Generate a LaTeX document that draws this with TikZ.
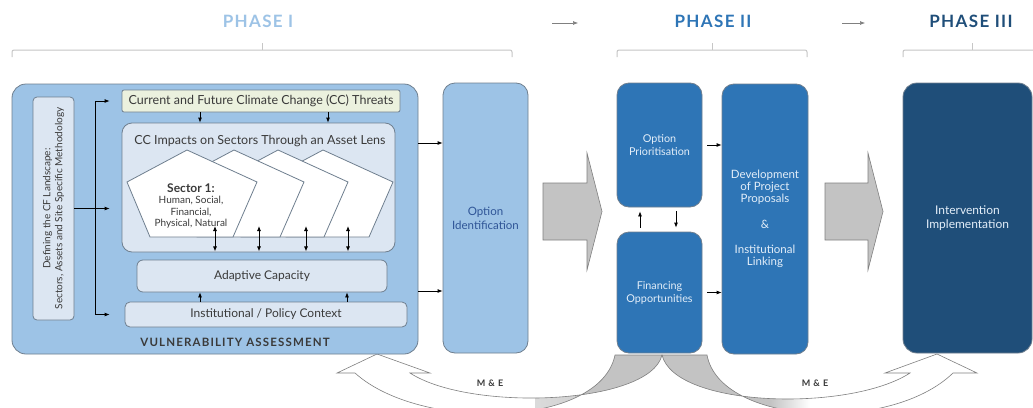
\documentclass[tikz,border=0pt]{standalone}
\usepackage{fontspec}
\setmainfont{Lato}
\usepackage{tikz}
\usetikzlibrary{arrows.meta}
\definecolor{PaleBlue}{HTML}{9DC3E6}
\definecolor{IceBlue}{HTML}{DCE6F2}
\definecolor{MidBlue}{HTML}{2E75B6}
\definecolor{DeepBlue}{HTML}{1F4E79}
\definecolor{ThreatGreen}{HTML}{EBF1DE}
\definecolor{EdgeGrey}{HTML}{6F7F8F}
\definecolor{BlockGrey}{HTML}{C3C3C3}
\definecolor{InkGrey}{HTML}{3A3A3A}
\definecolor{LabelBlue}{HTML}{2F5597}
\definecolor{SoftWhite}{HTML}{E3EEF9}

\begin{document}
\begin{tikzpicture}[x=1pt, y=-1pt, >={Latex[length=5pt,width=4pt]}, line width=0.8pt,
	panel/.style={draw=EdgeGrey, rounded corners=#1, inner sep=0pt, align=center},
	panel/.default=8pt,
	phasetitle/.style={font=\fontsize{17}{17}\selectfont\bfseries\addfontfeature{LetterSpace=8}},
	bracket/.style={gray!45, line width=1pt, rounded corners=2pt},
	bigarrow/.style={draw=gray, fill=BlockGrey, line width=0.6pt},
	meflow/.style={draw=gray, line width=0.6pt, fill=white}]

				\fill[white] (0,0) rectangle (1033,407);
				\useasboundingbox (0,0) rectangle (1033,407);

				\node[phasetitle, PaleBlue] (phaseone) at (258,21) {PHASE I};
				\node[phasetitle, MidBlue] (phasetwo) at (713,21) {PHASE II};
				\node[phasetitle, DeepBlue] (phasethree) at (971,21) {PHASE III};
				\foreach \l/\m/\r in {12/262/512, 617/712/807, 903/972/1050} {
					\draw[bracket] (\l,57) -- (\l,50) -- (\r,50) -- (\r,57);
					\draw[bracket] (\m,43) -- (\m,50);
				}
				\foreach \xa/\xb [count=\i] in {552/578, 842/865} {
					\coordinate (from\i) at (\xa,23);
					\coordinate (to\i) at (\xb,23);
					\draw[gray, ->, line width=0.6pt] (from\i) -- (to\i);
				}

				\draw[meflow, path picture={\shade[left color=white, right color=BlockGrey] (535,330) rectangle (575,410); \fill[BlockGrey] (575,330) rectangle (700,410);}]
				(662,355) .. controls (650,405) and (470,412) .. (410,373) -- (430,373) -- (377,354) -- (337,373) -- (355,373) .. controls (420,432) and (600,428) .. (615,355) -- cycle;
				\draw[meflow, path picture={\fill[BlockGrey] (640,330) rectangle (770,410); \shade[left color=BlockGrey, right color=white] (770,330) rectangle (810,410);}]
				(662,355) .. controls (675,408) and (850,412) .. (910,373) -- (885,373) -- (937,354) -- (977,373) -- (953,373) .. controls (890,434) and (720,425) .. (707,355) -- cycle;

				\node[panel=14pt, fill=PaleBlue, minimum width=406pt, minimum height=270pt] (va) at (215,219) {};
				\node[font=\fontsize{11.5}{13}\selectfont\bfseries\addfontfeature{LetterSpace=10}, InkGrey] (vatitle) at (235,342) {VULNERABILITY ASSESSMENT};
				\node[panel=4pt, fill=IceBlue, rotate=90, minimum width=223pt, minimum height=41pt, font=\fontsize{10}{12}\selectfont, text=InkGrey] (landscape) at (53.5,208.5) {Defining the CF Landscape:\\Sectors, Assets and Site Specific Methodology};
				\node[panel=2pt, fill=ThreatGreen, minimum width=278pt, minimum height=22pt, font=\fontsize{12.5}{14}\selectfont, text=InkGrey] (threats) at (261,101) {Current and Future Climate Change (CC) Threats};
				\node[panel=10pt, fill=IceBlue, minimum width=273pt, minimum height=129pt] (impacts) at (258.5,187.5) {};
				\node[font=\fontsize{12.5}{14}\selectfont, InkGrey] (impactstitle) at (260,141) {CC Impacts on Sectors Through an Asset Lens};
				\foreach \dx in {136,91,47,0}
					\draw[EdgeGrey, fill=white] (127+\dx,182) -- (187+\dx,150) -- (257+\dx,182) -- (233+\dx,237) -- (150+\dx,237) -- cycle;
				\node[align=center, font=\fontsize{10}{11.5}\selectfont, InkGrey] (sectorone) at (191,206) {{\fontsize{12}{13}\selectfont\bfseries Sector 1:}\\Human, Social,\\Financial,\\Physical, Natural};
				\node[panel=6pt, fill=IceBlue, minimum width=250pt, minimum height=32pt, font=\fontsize{12}{14}\selectfont, text=InkGrey] (adaptive) at (262,276) {Adaptive Capacity};
				\node[panel=5pt, fill=IceBlue, minimum width=282pt, minimum height=25pt, font=\fontsize{12}{14}\selectfont, text=InkGrey] (policy) at (266,314.5) {Institutional / Policy Context};

				\coordinate (fork) at (95,208.5);
				\draw (landscape.south) -- (fork);
				\draw[->, shorten >=12pt] (fork) |- (threats.west);
				\draw[->, shorten >=12pt] (fork) -- (fork -| impacts.west);
				\draw[->, shorten >=15pt] (fork) |- (policy.west);
				\foreach \x in {200,328}
					\draw[->] (threats.south -| \x,0) -- (impacts.north -| \x,0);
				\foreach \x in {215,259,306,348}
					\draw[<->, shorten >=1pt] (\x,226) -- (impacts.south -| \x,0);
				\foreach \x in {200,347}
					\draw[->] (policy.north -| \x,0) -- (adaptive.south -| \x,0);

				\node[panel=12pt, fill=PaleBlue, minimum width=85pt, minimum height=270pt, font=\fontsize{11.5}{14}\selectfont, text=LabelBlue] (optid) at (485.5,218) {Option\\Identification};
				\foreach \y in {143,291}
					\draw[->] (va.east |- 0,\y) -- (optid.west |- 0,\y);

				\foreach \xa/\xb/\xt in {543/587/602, 825/868/883}
					\draw[bigarrow] (\xa,183) -- (\xb,183) -- (\xb,153) -- (\xt,211.5) -- (\xb,270) -- (\xb,240) -- (\xa,240) -- cycle;

				\node[panel=12pt, fill=MidBlue, minimum width=85pt, minimum height=124pt, font=\fontsize{10.8}{13}\selectfont, text=SoftWhite] (prior) at (659.5,145) {Option\\Prioritisation};
				\node[panel=12pt, fill=MidBlue, minimum width=85pt, minimum height=121pt, font=\fontsize{10.8}{13}\selectfont, text=SoftWhite] (finance) at (659.5,292.5) {Financing\\Opportunities};
				\node[panel=12pt, fill=MidBlue, minimum width=86pt, minimum height=270pt, font=\fontsize{11.5}{12}\selectfont, text=SoftWhite] (develop) at (765,219) {Development\\of Project\\Proposals\\[14pt]\&\\[13pt]Institutional\\Linking};
				\draw[->, shorten <=4pt, shorten >=4pt] (finance.north -| 640,0) -- (prior.south -| 640,0);
				\draw[->, shorten <=4pt, shorten >=4pt] (prior.south -| 676,0) -- (finance.north -| 676,0);
				\draw[->, shorten <=5pt] (prior.east) -- (prior.east -| develop.west);
				\draw[->, shorten <=5pt] (finance.east) -- (finance.east -| develop.west);

				\node[panel=14pt, fill=DeepBlue, minimum width=129pt, minimum height=270pt, font=\fontsize{12}{14}\selectfont, text=SoftWhite] (implement) at (967.5,218) {Intervention\\Implementation};

				\node[font=\fontsize{9}{10}\selectfont\bfseries\addfontfeature{LetterSpace=10}, InkGrey] (meone) at (490,383) {M \& E};
				\node[font=\fontsize{9}{10}\selectfont\bfseries\addfontfeature{LetterSpace=10}, InkGrey] (metwo) at (815,383) {M \& E};

			\end{tikzpicture}
\end{document}
